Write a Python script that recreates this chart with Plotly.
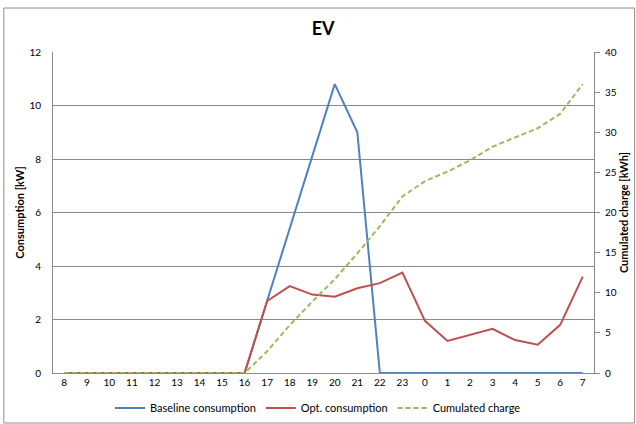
import plotly.graph_objects as go

hours = ["8", "9", "10", "11", "12", "13", "14", "15", "16", "17", "18", "19",
         "20", "21", "22", "23", "0", "1", "2", "3", "4", "5", "6", "7"]
baseline = [0, 0, 0, 0, 0, 0, 0, 0, 0, 2.7, 5.4, 8.1, 10.8, 9.0, 0, 0,
            0, 0, 0, 0, 0, 0, 0, 0]
optimized = [0, 0, 0, 0, 0, 0, 0, 0, 0, 2.69, 3.25, 2.93, 2.85, 3.17, 3.36, 3.75,
             1.95, 1.2, 1.42, 1.65, 1.23, 1.06, 1.8, 3.6]
cumulated = [0, 0, 0, 0, 0, 0, 0, 0, 0, 2.7, 5.95, 8.9, 11.7, 14.9, 18.3, 22.0,
             23.9, 25.1, 26.5, 28.2, 29.4, 30.5, 32.3, 36.0]

FONT = "Lato"
GRID = "#8a8a8a"

fig = go.Figure()
fig.add_trace(go.Scatter(x=hours, y=baseline, mode="lines", name="Baseline consumption",
                         line=dict(color="#4F81BD", width=2)))
fig.add_trace(go.Scatter(x=hours, y=optimized, mode="lines", name="Opt. consumption",
                         line=dict(color="#C0504D", width=2)))
fig.add_trace(go.Scatter(x=hours, y=cumulated, mode="lines", name="Cumulated charge",
                         yaxis="y2", line=dict(color="#9BBB59", width=2, dash="5px,3px")))

fig.update_layout(
    width=636, height=424,
    margin=dict(l=53, r=42, t=52, b=51),
    paper_bgcolor="white", plot_bgcolor="white",
    font=dict(family=FONT, size=10, color="#000000"),
    title=dict(text="<b>EV</b>", x=0.508, xanchor="center", y=0.932, yanchor="middle",
               font=dict(family=FONT, size=18, color="#000000")),
    xaxis=dict(type="category", range=[-0.5, 23.5], showline=True, linecolor=GRID,
               linewidth=1, showgrid=False, ticks="", tickfont=dict(size=10),
               automargin=False, fixedrange=True),
    yaxis=dict(range=[0, 12], dtick=2, showgrid=True, gridcolor=GRID, gridwidth=1,
               showline=True, linecolor=GRID, linewidth=1, ticks="", zeroline=False,
               ticklabelstandoff=9, automargin=False,
               title=dict(text="<b>Consumption [kW]</b>", font=dict(size=11), standoff=2)),
    yaxis2=dict(range=[0, 40], dtick=5, overlaying="y", side="right", showgrid=False,
                showline=True, linecolor=GRID, linewidth=1, ticks="outside", ticklen=5,
                tickcolor=GRID, zeroline=False, automargin=False, ticklabelstandoff=3,
                title=dict(text="<b>Cumulated charge [kWh]</b>", font=dict(size=11), standoff=4)),
    legend=dict(orientation="h", x=0.5, xanchor="center", xref="container",
                y=0.038, yanchor="middle", yref="container",
                font=dict(size=11), itemwidth=30, traceorder="normal"),
    shapes=[dict(type="rect", xref="paper", yref="paper", x0=-0.0909, x1=1.075,
                 y0=-0.1558, y1=1.137, line=dict(color="#8c8c8c", width=1))],
)

fig.write_html("out.html", config={"displayModeBar": False},
               post_script="document.body.style.margin='0';")
